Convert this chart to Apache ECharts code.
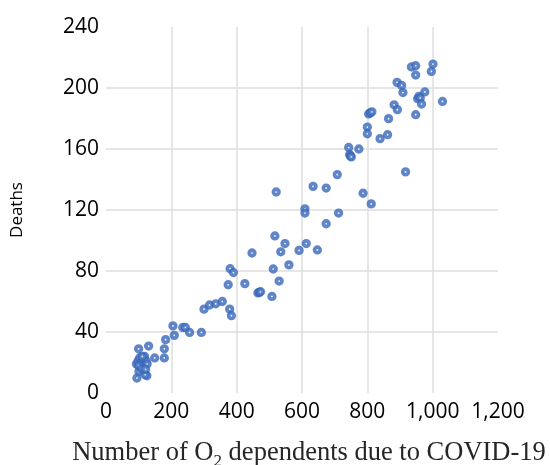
<!DOCTYPE html>
<html>
<head>
<meta charset="utf-8">
<script src="https://cdn.jsdelivr.net/npm/echarts@6/dist/echarts.min.js"></script>
<style>html,body{margin:0;padding:0;background:#fff;}#c{width:550px;height:465px;}</style>
</head>
<body>
<div id="c"></div>
<script>
// O2 dependents (x) and deaths (y)
var o2Dependents = [
  94.6, 125, 120, 100.8, 99.9, 130.5, 149, 178.5, 178.5, 182.5,
  93, 98, 103, 108, 113, 118, 123, 106, 116, 126, 100, 111, 110, 121,
  205, 209, 235, 243, 256, 292, 300, 317, 336, 356, 378.6, 384,
  374, 380, 390, 425, 447, 465, 469, 473, 508, 512, 517, 521, 530, 535, 548, 560,
  591, 609, 609, 613, 634, 647, 674, 674, 708, 712,
  743, 746, 748, 751, 774, 787, 800, 800, 804, 809, 814, 812,
  839, 862, 865, 882, 892, 891, 905, 909, 917,
  935, 948, 948, 948, 954, 958, 962, 966, 976, 996, 1001, 1030
];
var deaths = [
  9.8, 11.3, 12, 14.2, 29, 30.8, 23, 29, 23, 35,
  19, 21, 23, 20, 22, 24, 21, 17, 18, 19, 18, 24, 16, 15.5,
  44, 37.8, 43, 43, 39.7, 39.7, 55, 57.7, 58.5, 60, 55, 50.7,
  71, 81.5, 79, 71.7, 91.8, 65.6, 66, 66.4, 63.3, 81.3, 103, 131.8, 73.4, 92.6, 98, 84,
  93.5, 120.8, 118, 98, 135.5, 93.8, 134.4, 111, 143.2, 118,
  161, 156.3, 155.5, 154.8, 160, 131, 174.4, 170, 183, 183.7, 184.4, 124,
  166.8, 169.4, 179.9, 189, 185.8, 203.7, 201.7, 197, 145,
  213.8, 214.6, 208.5, 182.5, 193, 194.5, 193.5, 189.5, 197.4, 210.9, 215.7, 191.2
];
var xTicks = [0, 200, 400, 600, 800, 1000, 1200];
var yTicks = [0, 40, 80, 120, 160, 200, 240];
var xTitle = ['Number of O', '2', ' dependents due to COVID-19'];
var yTitle = 'Deaths';

var points = o2Dependents.map(function (x, i) { return [x, deaths[i]]; });

var chart = echarts.init(document.getElementById('c'), null, {renderer: 'canvas'});
var sans = '"Open Sans", "Liberation Sans", sans-serif';
chart.setOption({
  animation: false,
  grid: {left: 106, right: 52, top: 27, bottom: 72, containLabel: false, outerBoundsMode: 'none'},
  xAxis: {
    type: 'value',
    min: xTicks[0], max: xTicks[xTicks.length - 1], interval: 200,
    axisLine: {show: false}, axisTick: {show: false},
    axisLabel: {
      color: '#000', fontFamily: sans, fontSize: 21, margin: 9,
      formatter: function (v) { return v.toLocaleString('en-US'); }
    },
    splitLine: {show: true, showMinLine: false, showMaxLine: false, lineStyle: {color: '#dedede', width: 1.5}},
    name: '{a|' + xTitle[0] + '}{s|' + xTitle[1] + '}{a|' + xTitle[2] + '}',
    nameLocation: 'middle', nameGap: 44,
    nameTextStyle: {
      padding: [0, 0, 0, 14],
      rich: {
        a: {fontFamily: '"Liberation Serif", serif', fontSize: 26.5, color: '#262626', verticalAlign: 'bottom', lineHeight: 30},
        s: {fontFamily: '"Liberation Serif", serif', fontSize: 17, color: '#262626', verticalAlign: 'bottom', lineHeight: 30, padding: [0, 0, -3, 0]}
      }
    }
  },
  yAxis: {
    type: 'value',
    min: yTicks[0], max: yTicks[yTicks.length - 1], interval: 40,
    axisLine: {show: false}, axisTick: {show: false},
    axisLabel: {color: '#000', fontFamily: sans, fontSize: 21, margin: 7},
    splitLine: {show: true, showMinLine: false, showMaxLine: false, lineStyle: {color: '#dedede', width: 1.5}}
  },
  graphic: [{
    type: 'text', x: 17, y: 210, rotation: Math.PI / 2,
    style: {text: yTitle, font: '17px "Open Sans", "Liberation Sans", sans-serif', fill: '#000',
            align: 'center', verticalAlign: 'middle'}
  }],
  series: [{
    type: 'scatter',
    data: points,
    symbol: 'circle',
    symbolSize: 5.5,
    itemStyle: {color: '#ffffff', borderColor: '#3A68BA', borderWidth: 3.8}
  }]
});
</script>
</body>
</html>
